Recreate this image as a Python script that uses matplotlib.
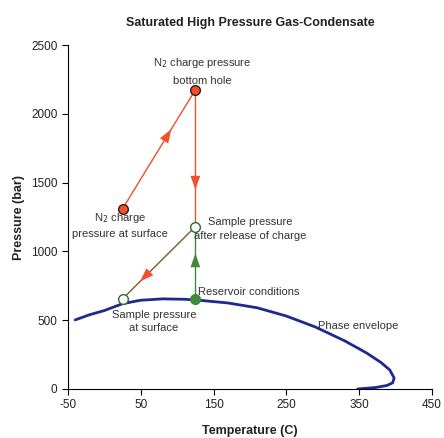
import numpy as np
import matplotlib.pyplot as plt

plt.rcParams['font.family'] = ['Liberation Sans', 'DejaVu Sans']
plt.rcParams['axes.unicode_minus'] = False

# phase envelope
env_t = [-40, -20, 0, 25, 50, 80, 110, 130, 170, 210, 250, 290, 330, 360, 380, 392, 398, 396, 388, 372, 348]
env_p = [502, 540, 570, 620, 645, 655, 652, 645, 625, 590, 530, 450, 350, 262, 192, 138, 80, 45, 25, 10, 0]

# process path points
t_surf, p_n2surf = 25, 1310
t_res, p_bh = 125, 2175
p_release = 1180
p_sample = 655
p_res = 655

red = "#f0502a"
green = "#3f8a3a"
brown = "#7a5c2a"
blue = "#1c2a8a"

fig = plt.figure(figsize=(4.44, 4.38), dpi=100)
ax = fig.add_axes([0.153, 0.112, 0.82, 0.785])

ax.plot(env_t, env_p, color=blue, lw=2, solid_capstyle='round')

ax.plot([t_surf, t_res], [p_n2surf, p_bh], color=red, lw=1)
ax.plot([t_res, t_res], [p_bh, p_release], color=red, lw=1)
ax.plot([t_res, t_res], [p_res, p_release], color=green, lw=1)
ax.plot([t_res, t_surf], [p_release, p_sample], color=brown, lw=1)


def arrow(x0, y0, x1, y1, frac, color):
    tip = (x0 + frac * (x1 - x0), y0 + frac * (y1 - y0))
    tail = (x0 + (frac - 0.1) * (x1 - x0), y0 + (frac - 0.1) * (y1 - y0))
    ax.annotate('', xy=tip, xytext=tail,
                arrowprops=dict(arrowstyle='-|>,head_length=1.0,head_width=0.35',
                                fc=color, ec='none', lw=0, shrinkA=0, shrinkB=0))


arrow(t_surf, p_n2surf, t_res, p_bh, 0.67, red)
arrow(t_res, p_bh, t_res, p_release, 0.73, red)
arrow(t_res, p_res, t_res, p_release, 0.63, green)
arrow(t_res, p_release, t_surf, p_sample, 0.76, red)

ax.plot([t_surf, t_res], [p_n2surf, p_bh], 'o', ms=7, mfc=red, mec="#3a1a10", mew=1)
ax.plot([t_res], [p_res], 'o', ms=7, mfc=green, mec=green)
ax.plot([t_res, t_surf], [p_release, p_sample], 'o', ms=7, mfc='white', mec="#2f6a2a", mew=1)

fs = 8
tc = "#333333"
ax.text(134, 2369, "N$_2$ charge pressure", ha='center', va='center', fontsize=fs, color=tc)
ax.text(134, 2238, "bottom hole", ha='center', va='center', fontsize=fs, color=tc)
ax.text(22, 1243, "N$_2$ charge", ha='center', va='center', fontsize=fs, color=tc)
ax.text(22, 1126, "pressure at surface", ha='center', va='center', fontsize=fs, color=tc)
ax.text(200, 1214, "Sample pressure", ha='center', va='center', fontsize=fs, color=tc)
ax.text(200, 1112, "after release of charge", ha='center', va='center', fontsize=fs, color=tc)
ax.text(129, 705, "Reservoir conditions", ha='left', va='center', fontsize=fs, color=tc)
ax.text(68, 540, "Sample pressure", ha='center', va='center', fontsize=fs, color=tc)
ax.text(68, 440, "at surface", ha='center', va='center', fontsize=fs, color=tc)
ax.text(294, 460, "Phase envelope", ha='left', va='center', fontsize=fs, color=tc)

ax.set_xlim(-50, 450)
ax.set_ylim(0, 2500)
ax.set_xticks(np.arange(-50, 451, 100))
ax.set_yticks(np.arange(0, 2501, 500))
ax.tick_params(labelsize=8.5, direction='out', length=4, color='black', labelcolor='#222222')
for s in ['top', 'right']:
    ax.spines[s].set_visible(False)

ax.set_xlabel("Temperature (C)", fontsize=9, fontweight='bold', labelpad=10, color='#222222')
ax.set_ylabel("Pressure (bar)", fontsize=9, fontweight='bold', labelpad=4, color='#222222')
ax.set_title("Saturated High Pressure Gas-Condensate", fontsize=9, fontweight='bold', pad=14, color='#222222')

plt.savefig('out.png')
